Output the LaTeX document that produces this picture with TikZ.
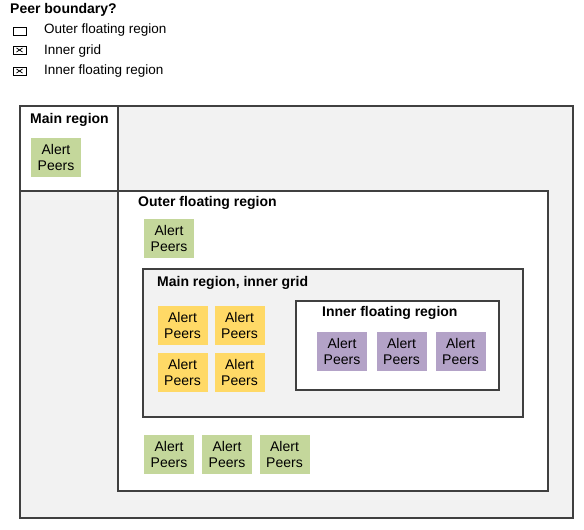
\documentclass[tikz,border=0pt]{standalone}
\usepackage{fontspec}
\setmainfont{Liberation Sans}
\definecolor{peergreen}{HTML}{C4D79B}
\definecolor{peeryellow}{HTML}{FFD966}
\definecolor{peerpurple}{HTML}{B3A2C7}
\definecolor{regiongray}{HTML}{F2F2F2}
\definecolor{edgegray}{HTML}{404040}
\begin{document}
\begin{tikzpicture}[x=1pt,y=-1pt,
  region/.style={draw=edgegray,line width=1.2pt},
  title/.style={anchor=west,inner sep=0pt,font=\fontsize{14}{16}\selectfont\bfseries},
  legendtext/.style={anchor=west,inner sep=0pt,font=\fontsize{13.5}{16}\selectfont},
  legendbox/.style={draw,line width=0.9pt,minimum width=13pt,minimum height=8pt,inner sep=0pt},
  peers/.style={minimum width=50pt,minimum height=39pt,inner sep=0pt,align=center,font=\fontsize{14}{16}\selectfont}]
\useasboundingbox (0,0) rectangle (584,530);

% legend
\node[title] (legendtitle) at (10,10) {Peer boundary?};
\node[legendbox] (lgouter) at (19.5,31) {};
\node[legendbox] (lggrid) at (19.5,50) {};
\node[legendbox] (lginner) at (19.5,71) {};
\foreach \b in {lggrid,lginner}
{
  \draw[line width=0.8pt] (\b.center) +(-3,-2) -- +(3,2);
  \draw[line width=0.8pt] (\b.center) +(-3,2) -- +(3,-2);
}
\node[legendtext] (lgoutertext) at (44,30) {Outer floating region};
\node[legendtext] (lggridtext) at (44,51) {Inner grid};
\node[legendtext] (lginnertext) at (44,71) {Inner floating region};

% regions
\fill[regiongray] (20,106) rectangle (573,518);
\fill[white] (20,106) rectangle (118,191);
\draw[region] (20,106) rectangle (573,518);
\draw[region] (118,106) -- (118,191) -- (20,191);
\draw[region,fill=white] (118,191) rectangle (548,491);
\draw[region,fill=regiongray] (143,269) rectangle (523,417);
\draw[region,fill=white] (296,301) rectangle (499,390);

\node[title] (maintitle) at (30,120) {Main region};
\node[title] (outertitle) at (138,203) {Outer floating region};
\node[title] (gridtitle) at (157,283) {Main region, inner grid};
\node[title] (innertitle) at (322,313) {Inner floating region};

% alert peers
\node[peers,fill=peergreen] (mainpeers) at (56,157.5) {Alert\\Peers};
\node[peers,fill=peergreen] (outerpeers) at (169,238.5) {Alert\\Peers};
\foreach \x [count=\i] in {169,227,284.5}
{
  \node[peers,fill=peergreen] (bottompeers\i) at (\x,454.5) {Alert\\Peers};
}
\foreach \x [count=\i] in {182.5,239.5}
{
  \foreach \y [count=\j] in {325.5,372}
  {
    \node[peers,fill=peeryellow] (gridpeers\i\j) at (\x,\y) {Alert\\Peers};
  }
}
\foreach \x [count=\i] in {342,401.5,460.5}
{
  \node[peers,fill=peerpurple] (innerpeers\i) at (\x,351.5) {Alert\\Peers};
}
\end{tikzpicture}
\end{document}
